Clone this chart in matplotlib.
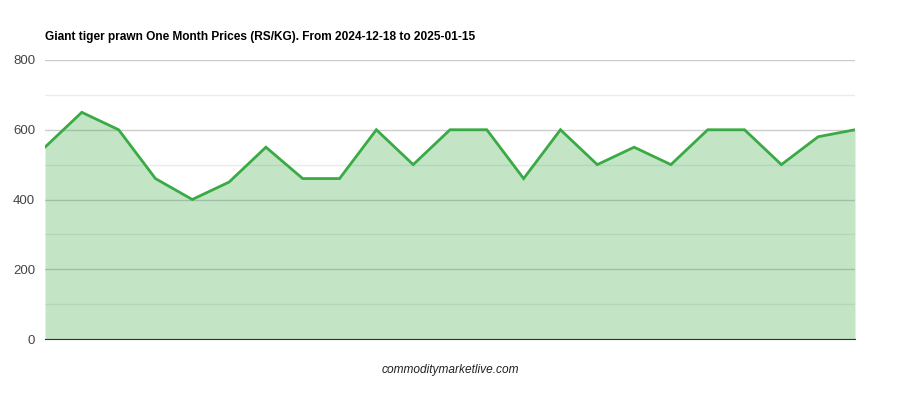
import matplotlib
matplotlib.use("Agg")
import matplotlib.pyplot as plt
from matplotlib.ticker import MultipleLocator

plt.rcParams['font.family'] = ['Liberation Sans', 'DejaVu Sans']

title = "Giant tiger prawn One Month Prices (RS/KG). From 2024-12-18 to 2025-01-15"
prices = [550, 650, 600, 460, 400, 450, 550, 460, 460, 600, 500, 600,
          600, 460, 600, 500, 550, 500, 600, 600, 500, 580, 600]
y_ticks = [0, 200, 400, 600, 800]
watermark = "commoditymarketlive.com"

x = list(range(len(prices)))

fig = plt.figure(figsize=(9, 4), dpi=100)
ax = fig.add_axes([0.05, 0.1525, 0.90, 0.6975])

ax.fill_between(x, prices, 0, color='#3aaa45', alpha=0.3, linewidth=0, zorder=3)
ax.plot(x, prices, color='#3aaa45', linewidth=2, zorder=4, solid_joinstyle='miter')

ax.set_xlim(0, len(prices) - 1)
ax.set_ylim(0, 800)
ax.set_yticks(y_ticks)
ax.yaxis.set_minor_locator(MultipleLocator(100))
ax.grid(which='major', axis='y', color='#cccccc', linewidth=1, zorder=1)
ax.grid(which='minor', axis='y', color='#ebebeb', linewidth=1, zorder=1)
ax.set_axisbelow(True)
for s in ['top', 'right', 'left']:
    ax.spines[s].set_visible(False)
ax.spines['bottom'].set_color('#333333')
ax.spines['bottom'].set_zorder(5)
ax.set_xticks([])
ax.tick_params(axis='y', which='both', length=0, labelsize=9.5, labelcolor='#444444', pad=7)

fig.text(0.05, 0.9125 - 0.005, title, fontsize=8.6, fontweight='bold', color='#000000', va='center', ha='left')
fig.text(0.5, 0.075, watermark, fontsize=8.6, style='italic', color='#222222', ha='center', va='center')

fig.savefig('out.png', dpi=100)
